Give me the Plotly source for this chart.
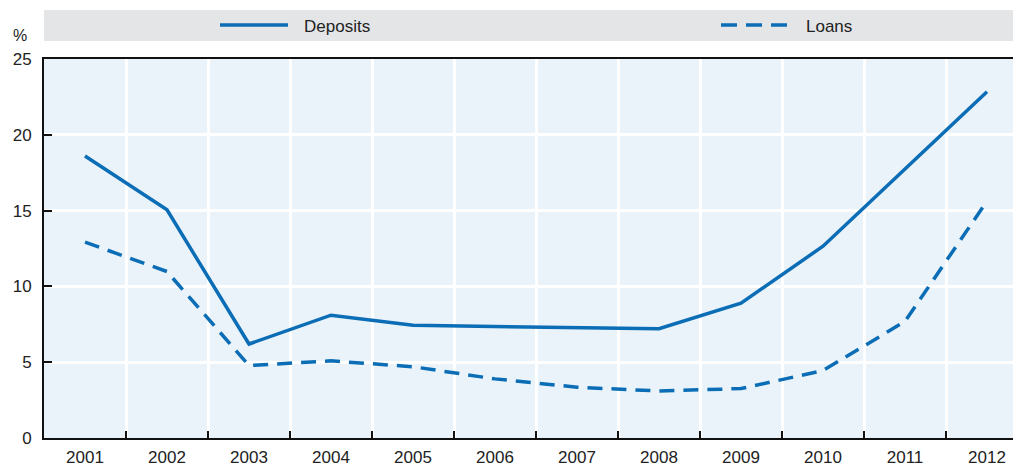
import plotly.graph_objects as go

# Annual rates, per cent
years = ["2001", "2002", "2003", "2004", "2005", "2006",
         "2007", "2008", "2009", "2010", "2011", "2012"]
deposits = [18.6, 15.05, 6.2, 8.1, 7.43, 7.36, 7.28, 7.21, 8.9, 12.65, 17.75, 22.84]
loans = [12.92, 10.98, 4.78, 5.09, 4.7, 3.9, 3.35, 3.1, 3.26, 4.45, 7.69, 15.63]

W, H = 1013, 469
L, R, T, B = 44, 0, 59, 31
BLUE = "#0a6db5"
FONT = "Liberation Sans, Arial, Helvetica, sans-serif"
TXT = "#222222"


def px_x(px):
    return (px - L) / (W - L - R)


def px_y(py):
    return (H - B - py) / (H - B - T)


fig = go.Figure()
fig.add_trace(go.Scatter(x=years, y=deposits, mode="lines", name="Deposits",
                         line=dict(color=BLUE, width=3.5)))
fig.add_trace(go.Scatter(x=years, y=loans, mode="lines", name="Loans",
                         line=dict(color=BLUE, width=3.5, dash="15px,9px")))

shapes = [
    # legend band
    dict(type="rect", xref="paper", yref="paper", x0=0, x1=1.02,
         y0=px_y(41), y1=px_y(10), fillcolor="#e4e5e7", line=dict(width=0), layer="below"),
    dict(type="line", xref="paper", yref="paper", x0=px_x(220), x1=px_x(288),
         y0=px_y(25), y1=px_y(25), line=dict(color=BLUE, width=3.5)),
    dict(type="line", xref="paper", yref="paper", x0=px_x(721), x1=px_x(788),
         y0=px_y(25), y1=px_y(25), line=dict(color=BLUE, width=3.5, dash="16px,9px")),
]

annotations = [
    dict(text="Deposits", xref="paper", yref="paper", x=px_x(302), y=px_y(26),
         xanchor="left", yanchor="middle", showarrow=False,
         font=dict(family=FONT, size=17, color=TXT)),
    dict(text="Loans", xref="paper", yref="paper", x=px_x(804), y=px_y(26),
         xanchor="left", yanchor="middle", showarrow=False,
         font=dict(family=FONT, size=17, color=TXT)),
    dict(text="%", xref="paper", yref="paper", x=px_x(29), y=px_y(35),
         xanchor="right", yanchor="middle", showarrow=False,
         font=dict(family=FONT, size=16, color=TXT)),
]

fig.update_layout(
    width=W, height=H,
    margin=dict(l=L, r=R, t=T, b=B, autoexpand=False),
    paper_bgcolor="white",
    plot_bgcolor="#ebf3fa",
    showlegend=False,
    shapes=shapes,
    annotations=annotations,
    font=dict(family=FONT, size=17, color=TXT),
    xaxis=dict(
        type="category",
        range=[-0.5, 11.317],
        tickson="boundaries",
        ticks="inside", ticklen=7, tickwidth=2, tickcolor="#111111",
        showgrid=True, gridcolor="white", gridwidth=2.5,
        showline=True, linecolor="#111111", linewidth=2, mirror=True,
        ticklabelstandoff=3,
        automargin=False,
        tickfont=dict(family=FONT, size=17, color=TXT),
        zeroline=False,
    ),
    yaxis=dict(
        range=[0, 25],
        tickvals=[0, 5, 10, 15, 20, 25],
        ticks="inside", ticklen=8, tickwidth=1.5, tickcolor="#111111",
        showgrid=True, gridcolor="white", gridwidth=2.5,
        showline=True, linecolor="#111111", linewidth=2,
        zeroline=False,
        ticklabelstandoff=7,
        automargin=False,
        tickfont=dict(family=FONT, size=17, color=TXT),
    ),
)

fig.write_html("out.html")
